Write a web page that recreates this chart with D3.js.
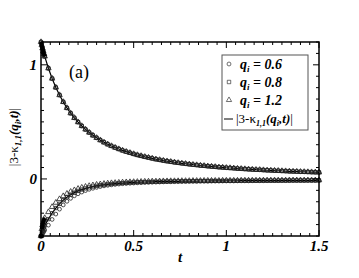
<!DOCTYPE html>
<html><head><meta charset="utf-8">
<script src="https://cdn.jsdelivr.net/npm/d3@7/dist/d3.min.js"></script>
<style>body{margin:0;background:#fff}svg{display:block}</style>
</head><body><svg id="c" width="359" height="278" font-family="'Liberation Serif','Times New Roman',Times,serif"></svg>
<script>
// time samples (denser near t = 0)
const tVals = [0,0.004,0.008,0.012,0.016,0.02,0.04,0.06,0.08,0.10,0.12,0.14,0.16,0.18,0.20,0.22,0.24,0.26,0.28,0.30,0.32,0.34,0.36,0.38,0.40,0.42,0.44,0.46,0.48,0.50,0.52,0.54,0.56,0.58,0.60,0.62,0.64,0.66,0.68,0.70,0.72,0.74,0.76,0.78,0.80,0.82,0.84,0.86,0.88,0.90,0.92,0.94,0.96,0.98,1.00,1.02,1.04,1.06,1.08,1.10,1.12,1.14,1.16,1.18,1.20,1.22,1.24,1.26,1.28,1.30,1.32,1.34,1.36,1.38,1.40,1.42,1.44,1.46,1.48,1.50];
// upper branch (all q coincide)
const upperVals = [1.200,1.172,1.145,1.119,1.095,1.074,0.970,0.880,0.802,0.735,0.675,0.622,0.576,0.535,0.498,0.464,0.434,0.407,0.382,0.360,0.340,0.321,0.304,0.289,0.275,0.262,0.250,0.239,0.229,0.219,0.210,0.202,0.194,0.187,0.180,0.173,0.167,0.161,0.156,0.151,0.146,0.141,0.137,0.133,0.129,0.125,0.122,0.118,0.115,0.112,0.109,0.106,0.103,0.101,0.098,0.096,0.094,0.091,0.089,0.087,0.085,0.083,0.081,0.080,0.078,0.076,0.075,0.073,0.072,0.070,0.069,0.067,0.066,0.065,0.063,0.062,0.061,0.060,0.059,0.058];
// lower branch for each q
const lowerQ06 = [-0.500,-0.492,-0.482,-0.470,-0.458,-0.447,-0.405,-0.355,-0.308,-0.265,-0.228,-0.196,-0.170,-0.148,-0.130,-0.115,-0.102,-0.091,-0.082,-0.074,-0.067,-0.061,-0.056,-0.052,-0.048,-0.045,-0.042,-0.040,-0.038,-0.036,-0.034,-0.033,-0.031,-0.030,-0.029,-0.028,-0.027,-0.026,-0.025,-0.025,-0.024,-0.023,-0.023,-0.022,-0.022,-0.021,-0.021,-0.020,-0.020,-0.020,-0.019,-0.019,-0.019,-0.018,-0.018,-0.018,-0.018,-0.017,-0.017,-0.017,-0.017,-0.016,-0.016,-0.016,-0.016,-0.016,-0.015,-0.015,-0.015,-0.015,-0.015,-0.015,-0.014,-0.014,-0.014,-0.014,-0.014,-0.014,-0.014,-0.013];
const lowerQ08 = [-0.500,-0.478,-0.458,-0.440,-0.423,-0.408,-0.352,-0.300,-0.255,-0.218,-0.186,-0.160,-0.138,-0.120,-0.105,-0.093,-0.083,-0.074,-0.067,-0.061,-0.055,-0.051,-0.047,-0.044,-0.041,-0.038,-0.036,-0.034,-0.032,-0.031,-0.029,-0.028,-0.027,-0.026,-0.025,-0.024,-0.024,-0.023,-0.022,-0.022,-0.021,-0.021,-0.020,-0.020,-0.019,-0.019,-0.019,-0.018,-0.018,-0.018,-0.017,-0.017,-0.017,-0.017,-0.016,-0.016,-0.016,-0.016,-0.015,-0.015,-0.015,-0.015,-0.015,-0.014,-0.014,-0.014,-0.014,-0.014,-0.014,-0.013,-0.013,-0.013,-0.013,-0.013,-0.013,-0.013,-0.012,-0.012,-0.012,-0.012];
const lowerQ12 = [-0.500,-0.440,-0.405,-0.380,-0.360,-0.342,-0.290,-0.245,-0.208,-0.176,-0.150,-0.129,-0.112,-0.098,-0.086,-0.076,-0.068,-0.061,-0.055,-0.050,-0.046,-0.042,-0.039,-0.036,-0.034,-0.032,-0.030,-0.028,-0.027,-0.026,-0.025,-0.024,-0.023,-0.022,-0.021,-0.021,-0.020,-0.019,-0.019,-0.018,-0.018,-0.018,-0.017,-0.017,-0.017,-0.016,-0.016,-0.016,-0.015,-0.015,-0.015,-0.015,-0.015,-0.014,-0.014,-0.014,-0.014,-0.014,-0.013,-0.013,-0.013,-0.013,-0.013,-0.013,-0.012,-0.012,-0.012,-0.012,-0.012,-0.012,-0.012,-0.011,-0.011,-0.011,-0.011,-0.011,-0.011,-0.011,-0.011,-0.011];
const xTicks = [0, 0.5, 1, 1.5];
const xTickLabels = ["0", "0.5", "1", "1.5"];
const yTicks = [0, 1];
const yTickLabels = ["0", "1"];
const seriesQ = ["0.6", "0.8", "1.2"];

const svg = d3.select("#c");
const L = 41, R = 319, T = 42, B = 236;
const x = d3.scaleLinear().domain([0, 1.5]).range([L, R]);
const y = d3.scaleLinear().domain([-0.5, 1.2]).range([B, T]);

const series = [
  {shape: d3.symbolCircle, lower: lowerQ06},
  {shape: d3.symbolSquare, lower: lowerQ08},
  {shape: d3.symbolTriangle, lower: lowerQ12}
];

const plot = svg.append("g");
// solid line
const line = d3.line().x((d, i) => x(tVals[i])).y(d => y(d));
plot.append("path").attr("d", line(upperVals)).attr("fill", "none").attr("stroke", "#000").attr("stroke-width", 1.2);
plot.append("path").attr("d", line(lowerQ08)).attr("fill", "none").attr("stroke", "#000").attr("stroke-width", 1.2);
// markers
series.forEach((s, si) => {
  const sym = d3.symbol().type(s.shape).size(s.shape === d3.symbolTriangle ? 13 : 11);
  [upperVals, s.lower].forEach(vals => {
    plot.selectAll(null).data(tVals.map((t, i) => [t, vals[i]])).enter()
      .append("path").attr("d", sym)
      .attr("transform", d => `translate(${x(d[0])},${y(d[1])})`)
      .attr("fill", "none").attr("stroke", "#222").attr("stroke-width", 0.8);
  });
});
// thick early segments
const early = tVals.slice(0, 6);
plot.append("path").attr("d", d3.line().x((d,i)=>x(early[i])).y(d=>y(d))(upperVals.slice(0,6))).attr("fill","none").attr("stroke","#000").attr("stroke-width",4);
plot.append("path").attr("d", d3.line().x((d,i)=>x(early[i+1])).y(d=>y(d))(lowerQ12.slice(1,6))).attr("fill","none").attr("stroke","#000").attr("stroke-width",4);
plot.append("circle").attr("cx", x(0)).attr("cy", y(-0.5)).attr("r", 2.5).attr("fill", "#000");

// frame
svg.append("rect").attr("x", L).attr("y", T).attr("width", R - L).attr("height", B - T)
  .attr("fill", "none").attr("stroke", "#000").attr("stroke-width", 1.5);

// ticks
const ax = svg.append("g").attr("stroke", "#000").attr("stroke-width", 1);
d3.range(0, 31).forEach(i => {
  const v = i * 0.05; const major = i % 10 === 0; const len = major ? 6 : 3;
  ax.append("line").attr("x1", x(v)).attr("x2", x(v)).attr("y1", B).attr("y2", B - len);
  ax.append("line").attr("x1", x(v)).attr("x2", x(v)).attr("y1", T).attr("y2", T + len);
});
d3.range(-5, 13).forEach(i => {
  const v = i * 0.1; const major = i % 10 === 0; const len = major ? 6 : 3;
  ax.append("line").attr("x1", L).attr("x2", L + len).attr("y1", y(v)).attr("y2", y(v));
  ax.append("line").attr("x1", R).attr("x2", R - len).attr("y1", y(v)).attr("y2", y(v));
});

// tick labels
svg.selectAll(null).data(xTicks).enter().append("text")
  .attr("x", d => x(d)).attr("y", B + 15).attr("text-anchor", "middle")
  .attr("font-size", 15).attr("font-weight", "bold").attr("font-style", "italic")
  .text((d, i) => xTickLabels[i]);
svg.selectAll(null).data(yTicks).enter().append("text")
  .attr("x", L - 4).attr("y", d => y(d) + 5).attr("text-anchor", "end")
  .attr("font-size", 15).attr("font-weight", "bold").attr("font-style", "italic")
  .text((d, i) => yTickLabels[i]);

// axis titles
svg.append("text").attr("x", 180).attr("y", 262).attr("text-anchor", "middle")
  .attr("font-size", 15).attr("font-weight", "bold").attr("font-style", "italic").text("t");
const yl = svg.append("text").attr("transform", "translate(18,137) rotate(-90)")
  .attr("text-anchor", "middle").attr("font-size", 13).attr("font-weight", "bold").attr("font-style", "italic");
yl.append("tspan").attr("font-style", "normal").attr("font-weight", "normal").text("|3-κ");
yl.append("tspan").attr("font-size", 9).attr("dy", 3).text("1,1");
yl.append("tspan").attr("dy", -3).text("(q");
yl.append("tspan").attr("font-size", 9).attr("dy", 3).text("i");
yl.append("tspan").attr("dy", -3).text(",t)");
yl.append("tspan").attr("font-style", "normal").attr("font-weight", "normal").text("|");

svg.append("text").attr("x", 69).attr("y", 78).attr("font-size", 18).text("(a)");

// legend
const lg = svg.append("g");
lg.append("rect").attr("x", 222).attr("y", 55).attr("width", 86).attr("height", 75)
  .attr("fill", "#fff").attr("stroke", "#555").attr("stroke-width", 1);
const rowsY = [64, 82, 100, 118];
series.forEach((s, i) => {
  lg.append("path").attr("d", d3.symbol().type(s.shape).size(12)())
    .attr("transform", `translate(229,${rowsY[i]})`).attr("fill", "none").attr("stroke", "#333").attr("stroke-width", 0.7);
  const tx = lg.append("text").attr("x", 240).attr("y", rowsY[i] + 5)
    .attr("font-size", 14).attr("font-weight", "bold").attr("font-style", "italic");
  tx.append("tspan").text("q");
  tx.append("tspan").attr("font-size", 9).attr("dy", 3).text("i");
  tx.append("tspan").attr("dy", -3).text(" = " + seriesQ[i]);
});
lg.append("line").attr("x1", 224).attr("x2", 233).attr("y1", rowsY[3] + 1).attr("y2", rowsY[3] + 1).attr("stroke", "#000").attr("stroke-width", 1);
const lt = lg.append("text").attr("x", 236).attr("y", rowsY[3] + 5).attr("font-size", 13);
lt.append("tspan").text("|3-κ");
lt.append("tspan").attr("font-size", 8).attr("dy", 3).attr("font-weight", "bold").attr("font-style", "italic").text("1,1");
lt.append("tspan").attr("dy", -3).attr("font-weight", "bold").attr("font-style", "italic").text("(q");
lt.append("tspan").attr("font-size", 8).attr("dy", 3).attr("font-weight", "bold").attr("font-style", "italic").text("i");
lt.append("tspan").attr("dy", -3).attr("font-weight", "bold").attr("font-style", "italic").text(",t)");
lt.append("tspan").text("|");
</script></body></html>
